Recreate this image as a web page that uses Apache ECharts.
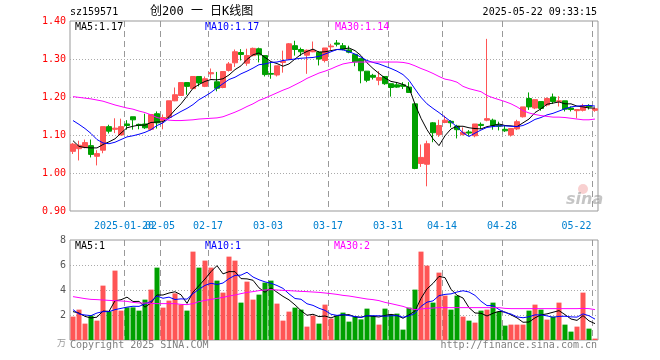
<!DOCTYPE html>
<html><head><meta charset="utf-8">
<script src="https://cdn.jsdelivr.net/npm/echarts@6/dist/echarts.min.js"></script>
<style>html,body{margin:0;padding:0;background:#fff}#c{width:660px;height:360px}</style>
</head><body><div id="c"></div>
<script>
const dates = ['2025-01-07','2025-01-08','2025-01-09','2025-01-10','2025-01-13','2025-01-14','2025-01-15','2025-01-16','2025-01-17','2025-01-20','2025-01-21','2025-01-22','2025-01-23','2025-01-24','2025-01-27',
'2025-02-05','2025-02-06','2025-02-07','2025-02-10','2025-02-11','2025-02-12','2025-02-13','2025-02-14','2025-02-17','2025-02-18','2025-02-19','2025-02-20','2025-02-21','2025-02-24','2025-02-25','2025-02-26','2025-02-27','2025-02-28',
'2025-03-03','2025-03-04','2025-03-05','2025-03-06','2025-03-07','2025-03-10','2025-03-11','2025-03-12','2025-03-13','2025-03-14','2025-03-17','2025-03-18','2025-03-19','2025-03-20','2025-03-21','2025-03-24','2025-03-25','2025-03-26','2025-03-27','2025-03-28','2025-03-31',
'2025-04-01','2025-04-02','2025-04-03','2025-04-07','2025-04-08','2025-04-09','2025-04-10','2025-04-11','2025-04-14','2025-04-15','2025-04-16','2025-04-17','2025-04-18','2025-04-21','2025-04-22','2025-04-23','2025-04-24','2025-04-25','2025-04-28','2025-04-29','2025-04-30',
'2025-05-06','2025-05-07','2025-05-08','2025-05-09','2025-05-12','2025-05-13','2025-05-14','2025-05-15','2025-05-16','2025-05-19','2025-05-20','2025-05-21','2025-05-22'];

const open  = [1.057,1.064,1.067,1.072,1.044,1.060,1.122,1.115,1.100,1.129,1.148,1.128,1.129,1.115,1.156,1.138,1.146,1.190,1.204,1.238,1.222,1.254,
1.228,1.261,1.240,1.225,1.270,1.290,1.317,1.289,1.309,1.327,1.309,1.262,1.258,1.291,1.300,1.335,1.325,1.310,1.319,1.318,1.296,1.332,
1.342,1.335,1.324,1.312,1.301,1.268,1.257,1.244,1.254,1.235,1.232,1.232,1.226,1.182,1.025,1.023,1.132,1.101,1.133,1.136,1.123,1.101,
1.108,1.098,1.128,1.139,1.139,1.126,1.115,1.100,1.116,1.148,1.196,1.171,1.188,1.179,1.200,1.188,1.190,1.171,1.164,1.165,1.177,1.165];
const close = [1.076,1.073,1.080,1.049,1.051,1.122,1.110,1.118,1.122,1.125,1.140,1.125,1.119,1.154,1.132,1.146,1.190,1.206,1.238,1.228,1.254,1.237,
1.248,1.264,1.223,1.267,1.287,1.319,1.312,1.309,1.328,1.311,1.259,1.260,1.282,1.294,1.340,1.325,1.319,1.323,1.323,1.300,1.329,1.334,
1.339,1.326,1.318,1.292,1.269,1.244,1.252,1.251,1.235,1.225,1.226,1.228,1.212,1.012,1.041,1.077,1.106,1.125,1.139,1.132,1.114,1.107,
1.105,1.129,1.125,1.143,1.125,1.123,1.111,1.117,1.135,1.174,1.174,1.193,1.170,1.196,1.188,1.190,1.168,1.167,1.167,1.177,1.174,1.169];
const low   = [1.050,1.033,1.065,1.041,1.020,1.052,1.104,1.105,1.100,1.114,1.114,1.115,1.116,1.112,1.117,1.115,1.145,1.189,1.204,1.206,1.222,1.228,
1.226,1.248,1.215,1.223,1.267,1.279,1.296,1.282,1.307,1.291,1.254,1.248,1.254,1.264,1.298,1.309,1.308,1.261,1.318,1.283,1.291,1.323,
1.333,1.323,1.315,1.281,1.236,1.239,1.246,1.231,1.232,1.201,1.224,1.221,1.211,1.010,1.016,0.965,1.081,1.095,1.131,1.120,1.091,1.099,
1.098,1.094,1.116,1.136,1.114,1.112,1.108,1.096,1.113,1.146,1.166,1.168,1.164,1.175,1.182,1.175,1.162,1.162,1.144,1.162,1.167,1.161];
const high  = [1.079,1.085,1.088,1.088,1.060,1.122,1.127,1.144,1.143,1.139,1.148,1.130,1.156,1.154,1.162,1.154,1.190,1.225,1.238,1.238,1.254,1.254,
1.254,1.275,1.266,1.267,1.292,1.325,1.326,1.327,1.330,1.330,1.309,1.291,1.282,1.322,1.342,1.348,1.330,1.325,1.346,1.321,1.329,1.340,
1.350,1.342,1.335,1.312,1.301,1.268,1.261,1.268,1.254,1.235,1.239,1.239,1.239,1.182,1.075,1.085,1.134,1.140,1.151,1.139,1.127,1.120,
1.113,1.129,1.133,1.353,1.143,1.135,1.124,1.117,1.140,1.174,1.212,1.193,1.188,1.199,1.209,1.202,1.190,1.175,1.167,1.182,1.181,1.172];

const ma5  = [1.085,1.070,1.067,1.066,1.066,1.075,1.082,1.090,1.105,1.119,1.123,1.126,1.126,1.133,1.134,1.135,1.148,1.166,1.182,1.202,1.223,1.233,
1.241,1.246,1.245,1.248,1.258,1.272,1.282,1.299,1.311,1.316,1.304,1.293,1.288,1.281,1.287,1.300,1.312,1.320,1.326,1.318,1.319,1.322,
1.325,1.326,1.329,1.322,1.309,1.290,1.275,1.262,1.250,1.241,1.238,1.233,1.225,1.181,1.144,1.114,1.090,1.072,1.098,1.116,1.123,1.123,
1.119,1.117,1.116,1.122,1.125,1.129,1.125,1.124,1.122,1.132,1.142,1.159,1.169,1.181,1.184,1.187,1.182,1.182,1.176,1.174,1.171,1.171];
const ma10 = [1.138,1.128,1.117,1.104,1.088,1.079,1.077,1.081,1.088,1.095,1.098,1.102,1.107,1.114,1.125,1.132,1.144,1.153,1.162,1.170,1.180,1.193,
1.202,1.212,1.224,1.235,1.246,1.252,1.261,1.268,1.276,1.285,1.287,1.291,1.292,1.296,1.298,1.300,1.302,1.303,1.304,1.307,1.313,1.319,
1.325,1.324,1.319,1.313,1.305,1.296,1.291,1.287,1.281,1.275,1.268,1.259,1.244,1.221,1.199,1.182,1.170,1.159,1.147,1.135,1.121,1.106,
1.096,1.105,1.113,1.120,1.122,1.124,1.124,1.123,1.122,1.125,1.132,1.141,1.146,1.153,1.157,1.163,1.169,1.174,1.176,1.177,1.178,1.176];
const ma30 = [1.201,1.199,1.197,1.195,1.192,1.189,1.184,1.179,1.175,1.171,1.168,1.163,1.159,1.153,1.146,1.142,1.139,1.138,1.138,1.139,1.140,1.142,
1.143,1.144,1.145,1.148,1.154,1.160,1.167,1.175,1.182,1.191,1.197,1.204,1.211,1.218,1.224,1.232,1.240,1.249,1.256,1.263,1.268,1.274,
1.281,1.287,1.290,1.292,1.292,1.292,1.292,1.292,1.292,1.292,1.292,1.291,1.288,1.282,1.275,1.269,1.262,1.254,1.247,1.244,1.239,1.228,
1.222,1.218,1.214,1.204,1.198,1.193,1.188,1.182,1.174,1.164,1.158,1.154,1.151,1.149,1.147,1.147,1.146,1.144,1.142,1.140,1.140,1.142];

const volume = [1.87,2.43,1.31,1.97,1.55,4.35,2.29,5.55,2.35,2.61,2.61,2.35,3.23,4.03,5.79,2.59,3.15,3.73,2.83,2.35,7.07,5.79,
6.35,5.79,4.75,3.79,6.67,6.35,2.99,4.67,3.23,3.63,4.59,4.75,2.91,1.55,2.27,2.59,2.43,1.07,1.95,1.31,2.83,1.71,
1.95,2.19,1.47,1.87,1.65,2.51,1.95,1.23,2.51,2.03,2.11,0.83,2.59,4.03,7.07,5.95,2.99,5.39,3.55,2.43,3.55,1.87,
1.55,1.39,2.35,2.43,2.99,2.27,1.15,1.23,1.23,1.23,2.35,2.83,2.43,1.63,1.87,2.99,1.23,0.67,1.07,3.79,0.91,0.11];
const vma5 = [2.27,2.16,1.89,1.76,1.83,2.32,2.29,3.14,3.22,3.43,3.08,3.09,2.63,2.97,3.60,3.60,3.76,3.86,3.62,2.93,3.83,4.35,
4.88,5.47,5.95,5.29,5.47,5.47,4.91,4.89,4.78,4.17,3.82,4.17,3.82,3.49,3.21,2.81,2.35,1.98,2.06,1.87,1.92,1.77,
1.95,2.00,2.03,1.84,1.83,1.94,1.89,1.84,1.97,2.05,1.97,1.74,2.01,2.32,3.33,4.09,4.53,5.09,4.99,4.06,3.58,3.36,
2.59,2.16,2.14,1.92,2.14,2.29,2.24,2.01,1.77,1.42,1.44,1.77,2.01,2.09,2.22,2.35,2.03,1.68,1.57,1.95,1.53,1.31];
const vma10 = [2.43,2.08,2.00,1.95,2.16,2.27,2.27,2.43,2.53,2.63,2.70,2.69,2.89,3.09,3.52,3.34,3.43,3.24,3.29,3.27,3.71,4.06,
4.37,4.54,4.44,4.56,4.91,5.17,5.19,5.42,5.04,4.82,4.65,4.54,4.36,4.13,3.69,3.32,3.26,2.90,2.77,2.54,2.37,2.06,
1.97,2.03,1.95,1.88,1.80,1.94,1.94,1.94,1.90,1.94,1.95,1.82,1.93,2.14,2.69,3.03,3.13,3.55,3.65,3.69,3.84,3.94,
3.84,3.57,3.10,2.75,2.75,2.44,2.20,2.08,1.85,1.78,1.86,2.01,2.01,1.93,1.82,1.89,1.90,1.85,1.83,2.09,1.94,1.67];
const vma30 = [3.47,3.39,3.31,3.25,3.23,3.20,3.17,3.15,3.12,3.09,3.01,2.96,2.96,2.93,2.91,2.91,2.91,2.91,2.85,2.83,2.91,3.07,
3.17,3.25,3.33,3.41,3.52,3.60,3.71,3.81,3.87,3.95,4.00,4.03,4.00,3.97,3.95,3.92,3.89,3.87,3.84,3.81,3.76,3.71,
3.65,3.57,3.52,3.44,3.36,3.28,3.23,3.15,3.01,2.91,2.80,2.69,2.53,2.43,2.48,2.53,2.56,2.59,2.59,2.59,2.59,2.59,
2.59,2.59,2.59,2.59,2.59,2.59,2.53,2.51,2.51,2.51,2.51,2.51,2.51,2.51,2.51,2.51,2.51,2.51,2.51,2.53,2.51,2.43];

const tickDates  = ['2025-01-20','2025-02-05','2025-02-17','2025-03-03','2025-03-17','2025-03-31','2025-04-14','2025-04-28','2025-05-22'];
const tickLabels = ['2025-01-20','02-05','02-17','03-03','03-17','03-31','04-14','04-28','05-22'];
const priceTicks = [0.90, 1.00, 1.10, 1.20, 1.30, 1.40];
const volTicks = [0, 2, 4, 6, 8];

const UP = '#ff5555', DOWN = '#00a000';
const MONO = '"DejaVu Sans Mono", "Liberation Mono", monospace';
const isTick = (i) => tickDates.indexOf(dates[i]) >= 0;
const lastDate = dates[dates.length - 1];
const firstTick = tickDates[0];
const tickIdx = tickDates.map((d) => dates.indexOf(d));

const chart = echarts.init(document.getElementById('c'), null, {renderer: 'canvas'});
const gridCommon = {left: 70, width: 528, show: true, borderColor: '#999', borderWidth: 1, backgroundColor: 'rgba(0,0,0,0)'};

function lineSeries(data, color, xi) {
  return {type: 'line', data: data, xAxisIndex: xi, yAxisIndex: xi, showSymbol: false, symbol: 'none',
    lineStyle: {color: color, width: 1}, itemStyle: {color: color}, silent: true, z: 4};
}
// vertical dashed lines at the left boundary of each labelled category
function vGridSeries(axisIdx, yBase) {
  return {type: 'custom', xAxisIndex: axisIdx, yAxisIndex: axisIdx, silent: true, z: 2, clip: false,
    data: tickIdx.map((i) => [i, yBase]),
    renderItem: (params, api) => {
      const cs = params.coordSys;
      const band = api.size([1, 0])[0];
      const x = Math.round(api.coord([api.value(0), api.value(1)])[0] - band / 2) + 0.5;
      return {type: 'line', shape: {x1: x, y1: cs.y, x2: x, y2: cs.y + cs.height},
        style: {stroke: '#999999', lineWidth: 1, lineDash: [6, 4]}};
    }};
}
// horizontal dotted lines at the inner value ticks
function hGridSeries(axisIdx, vals) {
  return {type: 'custom', xAxisIndex: axisIdx, yAxisIndex: axisIdx, silent: true, z: 2, clip: false,
    data: vals.map((v) => [0, v]),
    renderItem: (params, api) => {
      const cs = params.coordSys;
      const y = Math.round(api.coord([api.value(0), api.value(1)])[1]) + 0.5;
      return {type: 'line', shape: {x1: cs.x, y1: y, x2: cs.x + cs.width, y2: y},
        style: {stroke: '#aaaaaa', lineWidth: 1, lineDash: [1, 2]}};
    }};
}
const labelBase = {color: '#0080d0', fontFamily: MONO, fontSize: 10, margin: 10, padding: [0, 6, 0, 0], hideOverlap: false};

chart.setOption({
  animation: false,
  grid: [
    Object.assign({top: 21, height: 190}, gridCommon),
    Object.assign({top: 240, height: 100}, gridCommon)
  ],
  xAxis: [
    {type: 'category', gridIndex: 0, data: dates, boundaryGap: true,
     axisLine: {show: false}, axisTick: {show: false}, splitLine: {show: false},
     axisLabel: Object.assign({}, labelBase, {
       interval: (i) => isTick(i) && dates[i] !== firstTick,
       formatter: (v) => {
         const k = tickDates.indexOf(v);
         if (k < 0) return '';
         if (v === lastDate) return '{r|' + tickLabels[k] + '}';
         return tickLabels[k];
       },
       rich: {r: {color: '#0080d0', fontFamily: MONO, fontSize: 10, padding: [0, 31, 0, 0]}}
     })},
    {type: 'category', gridIndex: 1, data: dates, boundaryGap: true,
     axisLine: {show: false}, axisTick: {show: false}, axisLabel: {show: false}, splitLine: {show: false}},
    {type: 'category', gridIndex: 0, data: dates, boundaryGap: true, position: 'bottom',
     axisLine: {show: false}, axisTick: {show: false}, splitLine: {show: false},
     axisLabel: Object.assign({}, labelBase, {
       interval: (i) => dates[i] === firstTick,
       formatter: (v) => v === firstTick ? tickLabels[0] : ''
     })}
  ],
  yAxis: [
    {type: 'value', gridIndex: 0, min: priceTicks[0], max: priceTicks[priceTicks.length - 1], interval: 0.1,
     axisLine: {show: false}, axisTick: {show: false}, splitLine: {show: false},
     axisLabel: {color: '#ff0000', fontFamily: MONO, fontSize: 10, margin: 4, formatter: (v) => v.toFixed(2)}},
    {type: 'value', gridIndex: 1, min: volTicks[0], max: volTicks[volTicks.length - 1], interval: 2,
     axisLine: {show: false}, axisTick: {show: false}, splitLine: {show: false},
     axisLabel: {color: '#555', fontFamily: MONO, fontSize: 10, margin: 4,
       formatter: (v) => v === 0 ? '{u|万}' : String(v),
       rich: {u: {color: '#999', fontSize: 9, fontFamily: '"Noto Sans CJK SC"', padding: [6, 0, 0, 0]}}}}
  ],
  series: [
    vGridSeries(0, priceTicks[0]),
    hGridSeries(0, priceTicks.slice(1, -1)),
    vGridSeries(1, volTicks[0]),
    hGridSeries(1, volTicks.slice(1, -1)),
    {type: 'candlestick', xAxisIndex: 0, yAxisIndex: 0, barWidth: 5,
     data: dates.map((d, i) => [open[i], close[i], low[i], high[i]]),
     itemStyle: {color: UP, color0: DOWN, borderColor: UP, borderColor0: DOWN, borderWidth: 1}, z: 3},
    lineSeries(ma5, '#000000', 0),
    lineSeries(ma10, '#0000ff', 0),
    lineSeries(ma30, '#ff00ff', 0),
    {type: 'bar', xAxisIndex: 1, yAxisIndex: 1, barWidth: 5, data: volume,
     itemStyle: {color: (p) => close[p.dataIndex] >= open[p.dataIndex] ? UP : DOWN}, z: 3},
    lineSeries(vma5, '#000000', 1),
    lineSeries(vma10, '#0000ff', 1),
    lineSeries(vma30, '#ff00ff', 1)
  ],
  graphic: [
    {type: 'text', left: 70, top: 7, style: {text: 'sz159571', font: '10px ' + MONO, fill: '#000'}},
    {type: 'text', left: 150, top: 6, style: {text: '创200 一 日K线图', font: '12px "DejaVu Sans Mono", "Noto Sans CJK SC"', fill: '#000'}},
    {type: 'text', right: 63, top: 7, style: {text: '2025-05-22 09:33:15', font: '10px ' + MONO, fill: '#000'}},
    {type: 'text', left: 75, top: 22, style: {text: 'MA5:1.17', font: '10px ' + MONO, fill: '#000'}},
    {type: 'text', left: 205, top: 22, style: {text: 'MA10:1.17', font: '10px ' + MONO, fill: '#0000ff'}},
    {type: 'text', left: 335, top: 22, style: {text: 'MA30:1.14', font: '10px ' + MONO, fill: '#ff00ff'}},
    {type: 'text', left: 75, top: 241, style: {text: 'MA5:1', font: '10px ' + MONO, fill: '#000'}},
    {type: 'text', left: 205, top: 241, style: {text: 'MA10:1', font: '10px ' + MONO, fill: '#0000ff'}},
    {type: 'text', left: 334, top: 241, style: {text: 'MA30:2', font: '10px ' + MONO, fill: '#ff00ff'}},
    {type: 'text', left: 70, top: 340, style: {text: 'Copyright 2025 SINA.COM', font: '10px ' + MONO, fill: '#808080'}},
    {type: 'text', right: 63, top: 340, style: {text: 'http://finance.sina.com.cn', font: '10px ' + MONO, fill: '#808080'}},
    {type: 'circle', shape: {cx: 583, cy: 189, r: 5}, style: {fill: 'rgba(240,150,150,0.45)'}, silent: true},
    {type: 'text', left: 566, top: 192, style: {text: 'sina', font: 'italic bold 16px "DejaVu Sans"', fill: 'rgba(150,150,150,0.55)'}, silent: true}
  ]
});
</script></body></html>
